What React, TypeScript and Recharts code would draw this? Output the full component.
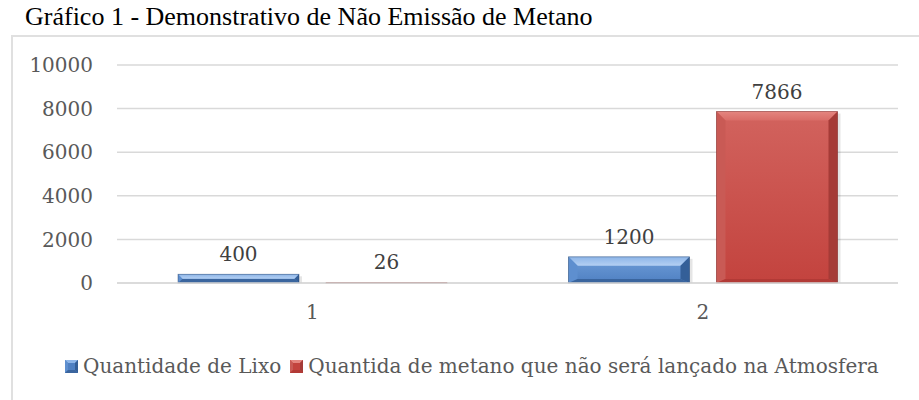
import React from "react";
import { BarChart, Bar, XAxis, YAxis, CartesianGrid, Legend, LabelList } from "recharts";

const categories = ["1", "2"];
const quantidadeLixo = [400, 1200];
const metanoNaoLancado = [26, 7866];
const seriesNames = ["Quantidade de Lixo", "Quantida de metano que não será lançado na Atmosfera"];
const yTicks = [0, 2000, 4000, 6000, 8000, 10000];
const titleText = "Gráfico 1 - Demonstrativo de Não Emissão de Metano";

const data = categories.map((c, i) => ({ cat: c, lixo: quantidadeLixo[i], metano: metanoNaoLancado[i] }));

type Pal = { id: string; faceTop: string; faceBot: string; topA: string; topB: string; left: string; right: string; bottom: string; edge: string };

const BLUE: Pal = { id: "blue", faceTop: "#6e9dd8", faceBot: "#4f80c2", topA: "#8db5e8", topB: "#b4d0f3", left: "#5e8fcf", right: "#345f98", bottom: "#3a659e", edge: "#1d3a60" };
const RED: Pal = { id: "red", faceTop: "#d2635e", faceBot: "#c3433e", topA: "#e4857f", topB: "#d96c67", left: "#c95a55", right: "#a53b37", bottom: "#b23a36", edge: "#6a201e" };

const FONT = '"DejaVu Serif", serif';

function GradDefs({ pal }: { pal: Pal }) {
  return (
    <>
      <linearGradient id={`face-${pal.id}`} x1="0" y1="0" x2="0" y2="1">
        <stop offset="0%" stopColor={pal.faceTop} />
        <stop offset="100%" stopColor={pal.faceBot} />
      </linearGradient>
      <linearGradient id={`top-${pal.id}`} x1="0" y1="0" x2="0" y2="1">
        <stop offset="0%" stopColor={pal.topA} />
        <stop offset="100%" stopColor={pal.topB} />
      </linearGradient>
    </>
  );
}

function BevelBar(props: any) {
  const { x, y, width: w, height: h, pal } = props;
  if (!(w > 0) || !(h > 0)) return null;
  const b = Math.min(9, h / 2, w / 2);
  const bb = Math.min(4, h / 2);
  return (
    <g>
      {h > 3 && <rect x={x + w} y={y + 2} width={3} height={h - 2} fill="#000" fillOpacity={0.1} />}
      <rect x={x} y={y} width={w} height={h} fill={`url(#face-${pal.id})`} />
      <polygon points={`${x},${y} ${x + w},${y} ${x + w - b},${y + b} ${x + b},${y + b}`} fill={`url(#top-${pal.id})`} />
      <polygon points={`${x},${y} ${x + b},${y + b} ${x + b},${y + h - bb} ${x},${y + h}`} fill={pal.left} />
      <polygon points={`${x + w},${y} ${x + w - b},${y + b} ${x + w - b},${y + h - bb} ${x + w},${y + h}`} fill={pal.right} />
      <polygon points={`${x},${y + h} ${x + b},${y + h - bb} ${x + w - b},${y + h - bb} ${x + w},${y + h}`} fill={pal.bottom} />
      <rect x={x} y={y} width={w} height={h} fill="none" stroke={pal.edge} strokeWidth={0.8} strokeOpacity={0.5} />
    </g>
  );
}

function LegendSwatch({ pal }: { pal: Pal }) {
  const s = 13;
  const b = 3;
  return (
    <svg width={s} height={s} style={{ marginRight: 5, flex: "none" }}>
      <rect x={0} y={0} width={s} height={s} fill={pal.faceBot} />
      <polygon points={`0,0 ${s},0 ${s - b},${b} ${b},${b}`} fill={pal.topA} />
      <polygon points={`0,0 ${b},${b} ${b},${s - b} 0,${s}`} fill={pal.left} />
      <polygon points={`${s},0 ${s - b},${b} ${s - b},${s - b} ${s},${s}`} fill={pal.right} />
      <polygon points={`0,${s} ${b},${s - b} ${s - b},${s - b} ${s},${s}`} fill={pal.bottom} />
    </svg>
  );
}

const pals = [BLUE, RED];

function renderLegend() {
  return (
    <div style={{ height: 50, display: "flex", alignItems: "center", fontFamily: FONT, fontSize: 20, color: "#595959", whiteSpace: "nowrap" }}>
      {seriesNames.map((n, i) => (
        <span key={n} style={{ display: "inline-flex", alignItems: "center", marginRight: i === 0 ? 9 : 0 }}>
          <LegendSwatch pal={pals[i]} />
          {n}
        </span>
      ))}
    </div>
  );
}

export default function App() {
  const tickStyle = { fill: "#595959", fontSize: 20, fontFamily: FONT };
  return (
    <div style={{ position: "fixed", left: 0, top: 0, width: 919, height: 400, overflow: "hidden", background: "#fff" }}>
      <div style={{ position: "absolute", left: 25, top: 4, fontFamily: '"Liberation Serif", serif', fontSize: 26, lineHeight: "26px", color: "#000", whiteSpace: "nowrap" }}>
        {titleText}
      </div>
      <div style={{ position: "absolute", left: 11, top: 35, width: 950, height: 420, border: "2px solid #e0e0e0", boxSizing: "border-box" }} />
      <div style={{ position: "absolute", left: 0, top: 0 }}>
        <BarChart width={919} height={400} data={data} margin={{ top: 65, right: 21, left: 0, bottom: 37 }} barSize={121} barGap={27}>
          <defs>
            <GradDefs pal={BLUE} />
            <GradDefs pal={RED} />
          </defs>
          <CartesianGrid vertical={false} stroke="#d9d9d9" strokeWidth={1.5} />
          <XAxis dataKey="cat" axisLine={{ stroke: "#d9d9d9", strokeWidth: 1.5 }} tickLine={false} tickSize={0} tickMargin={22} height={30} tick={tickStyle} />
          <YAxis width={117} domain={[0, 10000]} ticks={yTicks} interval={0} axisLine={false} tickLine={false} tickSize={0} tickMargin={24} tick={tickStyle} />
          <Legend verticalAlign="bottom" align="left" width={860} content={renderLegend} wrapperStyle={{ left: 65, top: 341 }} />
          <Bar dataKey="lixo" name={seriesNames[0]} isAnimationActive={false} fill={BLUE.faceBot} shape={(p: any) => <BevelBar {...p} pal={BLUE} />}>
            <LabelList dataKey="lixo" position="top" offset={13} fill="#404040" fontSize={20} fontFamily={FONT} />
          </Bar>
          <Bar dataKey="metano" name={seriesNames[1]} isAnimationActive={false} fill={RED.faceBot} shape={(p: any) => <BevelBar {...p} pal={RED} />}>
            <LabelList dataKey="metano" position="top" offset={13} fill="#404040" fontSize={20} fontFamily={FONT} />
          </Bar>
        </BarChart>
      </div>
    </div>
  );
}
